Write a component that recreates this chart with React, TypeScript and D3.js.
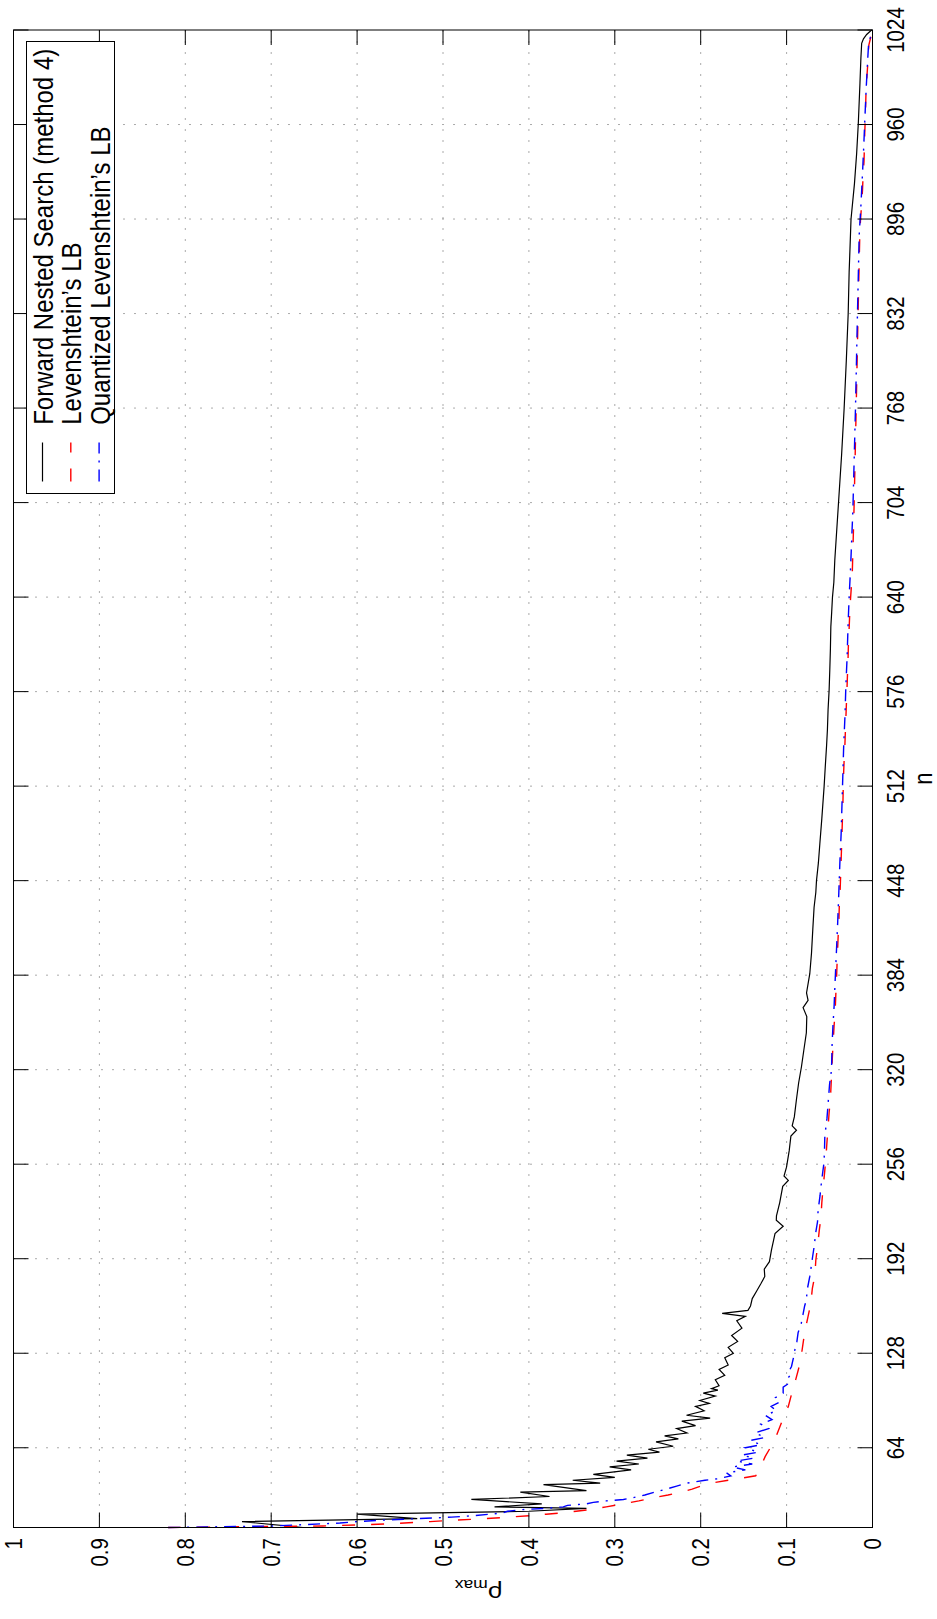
import React from "react";
import * as d3 from "d3";

// Axis ticks
const nTicks = [64, 128, 192, 256, 320, 384, 448, 512, 576, 640, 704, 768, 832, 896, 960, 1024];
const rhoTicks = [0, 0.1, 0.2, 0.3, 0.4, 0.5, 0.6, 0.7, 0.8, 0.9, 1];
const rhoTickLabels = ["0", "0.1", "0.2", "0.3", "0.4", "0.5", "0.6", "0.7", "0.8", "0.9", "1"];

// Series: [n, rho_max]
const forwardNested: [number, number][] = [
  [10, 0.663], [14, 0.734], [16, 0.53], [19, 0.6], [21, 0.4], [23, 0.333], [24, 0.44], [26, 0.385],
  [29, 0.467], [31, 0.376], [34, 0.41], [35, 0.333], [39, 0.383], [40, 0.317], [42, 0.349], [44, 0.3],
  [46, 0.325], [49, 0.281], [51, 0.306], [53, 0.272], [55, 0.298], [57, 0.262], [59, 0.286], [61, 0.248],
  [63, 0.261], [65, 0.232], [68, 0.252], [70, 0.226], [72, 0.242], [74, 0.216], [77, 0.228], [79, 0.206],
  [82, 0.222], [84, 0.189], [86, 0.2165], [89, 0.196], [92, 0.206], [94, 0.19], [96, 0.201], [99, 0.183],
  [101, 0.197], [103, 0.18], [104, 0.1874], [106, 0.1786], [110, 0.183], [113, 0.172], [117, 0.1786],
  [120, 0.168], [125, 0.172], [128, 0.162], [132, 0.168], [136, 0.157], [140, 0.164], [145, 0.152],
  [150, 0.158], [153, 0.148], [155, 0.175], [157, 0.145], [160, 0.142], [165, 0.14], [170, 0.135],
  [175, 0.13], [180, 0.1254], [185, 0.126], [190, 0.12], [198, 0.1176], [205, 0.115], [209, 0.1135],
  [214, 0.104], [218, 0.112], [221, 0.1118], [230, 0.108], [241, 0.1045], [245, 0.098], [248, 0.103],
  [254, 0.1001], [265, 0.097], [275, 0.095], [279, 0.0885], [282, 0.0935], [288, 0.091], [300, 0.0885],
  [311, 0.086], [322, 0.0827], [333, 0.08], [345, 0.077], [356, 0.0765], [362, 0.0808], [367, 0.075],
  [372, 0.0768], [385, 0.073], [399, 0.071], [415, 0.0695], [430, 0.068], [440, 0.066], [448, 0.0652],
  [460, 0.063], [473, 0.0613], [490, 0.059], [512, 0.0563], [525, 0.055], [539, 0.0535], [550, 0.0525],
  [564, 0.0517], [577, 0.0505], [591, 0.0497], [605, 0.049], [620, 0.0485], [630, 0.0475], [640, 0.0466],
  [650, 0.045], [665, 0.0439], [700, 0.04], [736, 0.036], [768, 0.033], [800, 0.0305], [832, 0.0283],
  [860, 0.0272], [876, 0.0262], [896, 0.025], [920, 0.021], [940, 0.0185], [961, 0.0165], [988, 0.0146],
  [1005, 0.0135], [1015, 0.0126], [1018, 0.0105], [1021, 0.0068], [1023, 0.003], [1024, 0.001],
];

const levenshteinLB: [number, number][] = [
  [10, 0.82], [11, 0.64], [12, 0.585], [13, 0.545], [14, 0.515], [15, 0.485], [16, 0.45], [17, 0.425],
  [18, 0.4], [19, 0.38], [20, 0.36], [21, 0.345], [22, 0.33], [24, 0.31], [26, 0.29], [28, 0.272],
  [30, 0.256], [32, 0.238], [34, 0.222], [36, 0.21], [38, 0.2], [40, 0.188], [42, 0.168], [44, 0.146],
  [45, 0.136], [50, 0.131], [58, 0.125], [69, 0.114], [84, 0.104], [92, 0.098], [103, 0.093], [111, 0.089],
  [122, 0.084], [142, 0.079], [153, 0.075], [161, 0.072], [172, 0.07], [181, 0.067], [191, 0.066],
  [200, 0.064], [211, 0.062], [220, 0.06], [230, 0.059], [240, 0.0575], [252, 0.0555], [260, 0.0543],
  [271, 0.053], [281, 0.0517], [291, 0.0505], [300, 0.049], [330, 0.0466], [350, 0.0447], [359, 0.0435],
  [371, 0.0427], [381, 0.0419], [391, 0.0413], [400, 0.0407], [410, 0.04], [419, 0.0392], [430, 0.0387],
  [441, 0.0377], [471, 0.036], [490, 0.035], [499, 0.0345], [518, 0.0338], [530, 0.033], [539, 0.0322],
  [569, 0.0303], [578, 0.0297], [588, 0.0291], [597, 0.0285], [609, 0.028], [617, 0.0273], [629, 0.0265],
  [637, 0.0258], [648, 0.0245], [657, 0.0235], [700, 0.0215], [768, 0.019], [832, 0.0168], [885, 0.0148],
  [895, 0.014], [905, 0.0128], [916, 0.0116], [925, 0.011], [935, 0.0099], [945, 0.0094], [955, 0.009],
  [965, 0.0083], [979, 0.0077], [990, 0.0068], [1001, 0.0055], [1008, 0.005], [1014, 0.0042], [1024, 0],
];

const quantizedLB: [number, number][] = [
  [10, 0.82], [11, 0.7], [12, 0.66], [13, 0.62], [14, 0.6], [15, 0.57], [16, 0.53], [17, 0.49],
  [18, 0.465], [19, 0.445], [20, 0.43], [21, 0.425], [22, 0.41], [23, 0.38], [24, 0.36], [25, 0.355],
  [26, 0.333], [27, 0.325], [28, 0.31], [29, 0.29], [30, 0.28], [32, 0.265], [34, 0.253], [36, 0.24],
  [38, 0.228], [40, 0.2165], [42, 0.195], [43, 0.18], [45, 0.165], [47, 0.17], [49, 0.148], [51, 0.163],
  [53, 0.14], [55, 0.158], [57, 0.138], [59, 0.152], [61, 0.133], [64, 0.148], [66, 0.13], [69, 0.142],
  [71, 0.125], [74, 0.137], [77, 0.121], [80, 0.13], [83, 0.117], [86, 0.125], [89, 0.112], [92, 0.118],
  [95, 0.108], [98, 0.113], [101, 0.104], [105, 0.104], [107, 0.099], [110, 0.1], [113, 0.096],
  [116, 0.097], [119, 0.0943], [125, 0.092], [130, 0.0905], [136, 0.088], [142, 0.0866], [148, 0.083],
  [154, 0.081], [160, 0.079], [164, 0.077], [171, 0.076], [180, 0.073], [193, 0.0698], [200, 0.068],
  [210, 0.066], [217, 0.064], [225, 0.0633], [235, 0.061], [244, 0.0594], [256, 0.0567], [263, 0.056],
  [275, 0.0555], [287, 0.053], [297, 0.0517], [310, 0.05], [320, 0.0477], [338, 0.047], [350, 0.046],
  [363, 0.0447], [380, 0.0435], [400, 0.042], [420, 0.0405], [440, 0.0392], [460, 0.038], [480, 0.0365],
  [500, 0.0355], [520, 0.0345], [540, 0.0335], [560, 0.032], [580, 0.031], [600, 0.0295], [620, 0.0285],
  [640, 0.0272], [660, 0.0255], [700, 0.0228], [768, 0.0198], [832, 0.0175], [885, 0.0155], [905, 0.0135],
  [925, 0.0118], [945, 0.0102], [965, 0.0088], [985, 0.0073], [1005, 0.0055], [1015, 0.0045], [1024, 0],
];

const legendLabels = ["Forward Nested Search (method 4)", "Levenshtein\u2019s LB", "Quantized Levenshtein\u2019s LB"];

const FONT = "'Liberation Sans', Arial, Helvetica, sans-serif";
// glyphs are drawn wider across the reading direction
const STRETCH = 1.17;

export default function App() {
  // The figure is laid out with n along the first axis and rho along the second,
  // then turned a quarter turn so that n runs upward on the page.
  const originX = 13.5;
  const originY = 1527.5;
  const len = 1497.5; // n axis length
  const depth = 859; // rho axis length
  const tickLen = 15;

  const x = d3.scaleLinear().domain([10, 1024]).range([0, len]);
  const y = d3.scaleLinear().domain([0, 1]).range([depth, 0]);
  const line = d3
    .line<[number, number]>()
    .x((d) => x(d[0]))
    .y((d) => y(d[1]));

  const styles = [
    { stroke: "#000", dash: undefined as string | undefined, width: 1.2 },
    { stroke: "#ff0000", dash: "13 16", width: 1.4 },
    { stroke: "#0000ff", dash: "12 7 2 7", width: 1.4 },
  ];
  const series = [forwardNested, levenshteinLB, quantizedLB];

  // legend geometry
  const lgX = 1034;
  const lgY = 13;
  const lgW = 452;
  const lgH = 88;
  const rowY = [29, 57.3, 85.6];

  const stretched = (u: number, v: number, extra = "") =>
    `translate(${u},${v}) scale(1,${STRETCH})${extra}`;

  return (
    <svg
      width={937}
      height={1619}
      style={{ position: "absolute", left: 0, top: 0, background: "#fff" }}
      fontFamily={FONT}
    >
      <rect width={937} height={1619} fill="#fff" />
      <g transform={`translate(${originX},${originY}) rotate(-90)`}>
        {/* grid */}
        {nTicks
          .filter((t) => t < 1024)
          .map((t) => (
            <line key={`gn${t}`} x1={x(t)} x2={x(t)} y1={0} y2={depth} stroke="#555" strokeWidth={1} strokeDasharray="1 10" />
          ))}
        {rhoTicks
          .filter((t) => t > 0 && t < 1)
          .map((t) => (
            <line key={`gr${t}`} x1={0} x2={len} y1={y(t)} y2={y(t)} stroke="#555" strokeWidth={1} strokeDasharray="1 10" />
          ))}

        {/* data */}
        {series.map((s, i) => (
          <path
            key={`s${i}`}
            d={line(s) || ""}
            fill="none"
            stroke={styles[i].stroke}
            strokeWidth={styles[i].width}
            strokeDasharray={styles[i].dash}
            strokeLinejoin="miter"
          />
        ))}

        {/* frame */}
        <rect x={0} y={0} width={len} height={depth} fill="none" stroke="#000" strokeWidth={1} />

        {/* ticks on n axis (both edges) */}
        {nTicks.map((t) => (
          <g key={`tn${t}`}>
            <line x1={x(t)} x2={x(t)} y1={depth} y2={depth - tickLen} stroke="#000" />
            <line x1={x(t)} x2={x(t)} y1={0} y2={tickLen} stroke="#000" />
            <text transform={stretched(x(t), 890.5)} textAnchor="middle" fontSize={20.5} fill="#000">
              {t}
            </text>
          </g>
        ))}

        {/* ticks on rho axis (both edges) */}
        {rhoTicks.map((t, i) => (
          <g key={`tr${t}`}>
            <line x1={0} x2={tickLen} y1={y(t)} y2={y(t)} stroke="#000" />
            <line x1={len} x2={len - tickLen} y1={y(t)} y2={y(t)} stroke="#000" />
            <text transform={stretched(-10.6, y(t) + 8.6)} textAnchor="end" fontSize={20.5} fill="#000">
              {rhoTickLabels[i]}
            </text>
          </g>
        ))}

        {/* axis labels */}
        <text transform={stretched(len / 2, 918)} textAnchor="middle" fontSize={22} fill="#000">
          n
        </text>
        <text transform={stretched(-58, 465, " rotate(-90)")} textAnchor="middle" fontSize={22} fill="#000">
          {"\u03c1"}
          <tspan fontSize={15} dy={5}>
            max
          </tspan>
        </text>

        {/* legend */}
        <rect x={lgX} y={lgY} width={lgW} height={lgH} fill="#fff" stroke="#000" strokeWidth={1} />
        {legendLabels.map((lab, i) => (
          <g key={`lg${i}`}>
            <line
              x1={lgX + 12}
              x2={lgX + 51}
              y1={rowY[i]}
              y2={rowY[i]}
              stroke={styles[i].stroke}
              strokeWidth={styles[i].width}
              strokeDasharray={styles[i].dash}
            />
            <text transform={stretched(lgX + 68.7, rowY[i] + 10.6)} fontSize={24} fill="#000">
              {lab}
            </text>
          </g>
        ))}
      </g>
    </svg>
  );
}
